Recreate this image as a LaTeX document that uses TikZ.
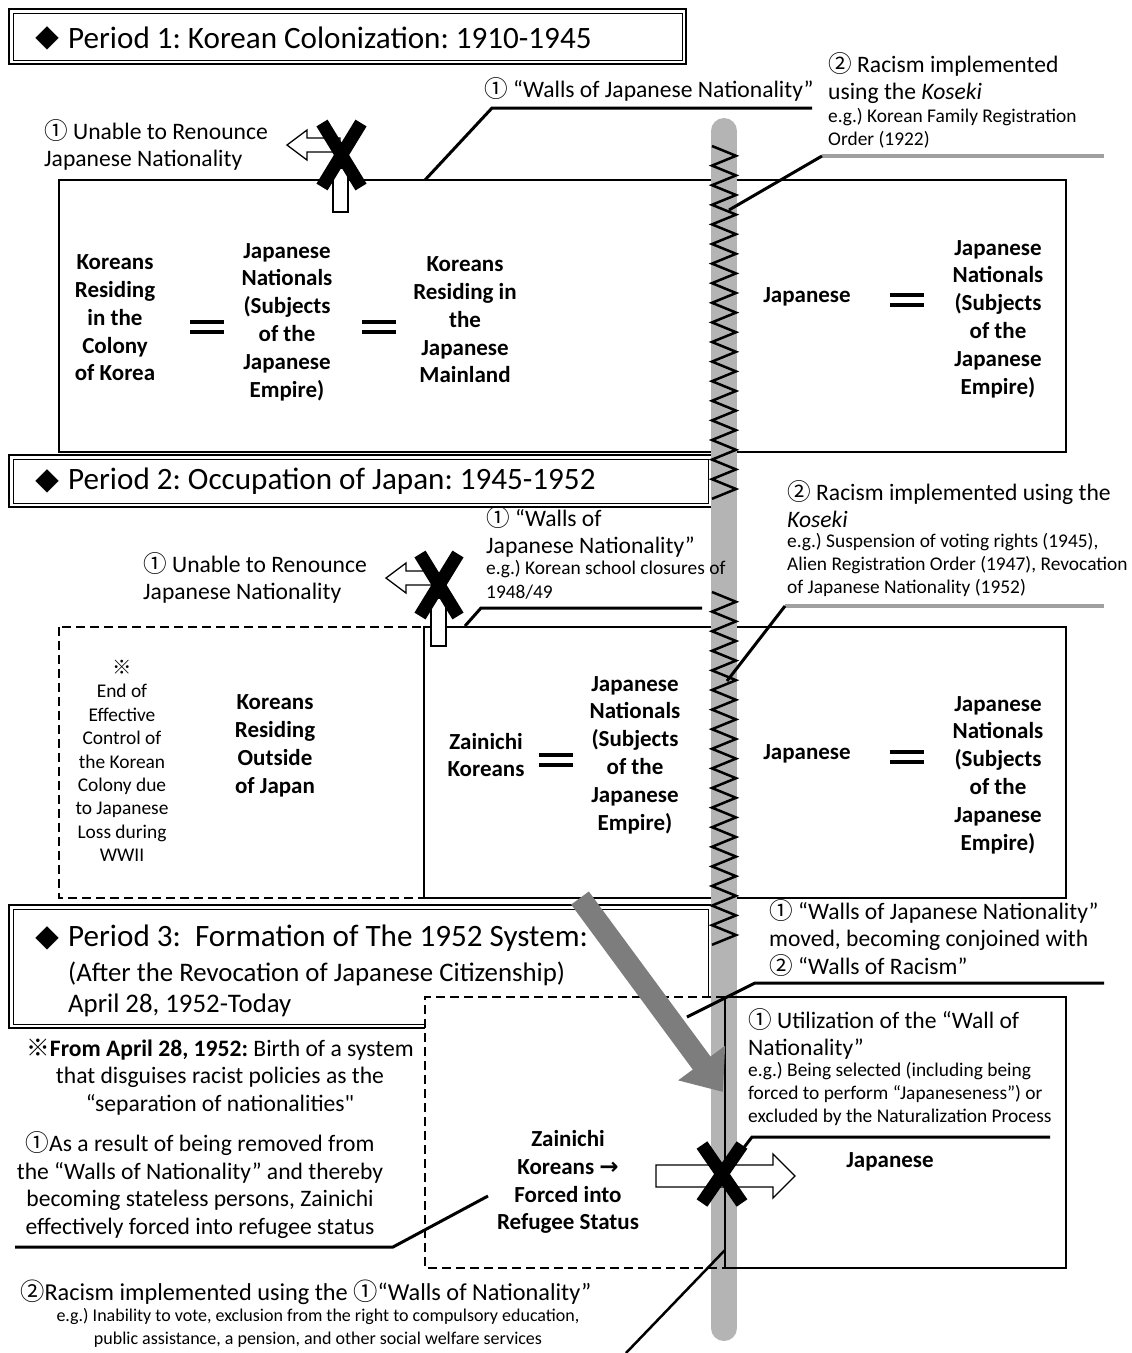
\documentclass[tikz,border=0pt]{standalone}
\usepackage{fontspec}
\usetikzlibrary{arrows.meta}
\setmainfont{Carlito}
\newfontfamily\carq{Carlito}[Ligatures=TeXOff]
\newfontfamily\cjk{Noto Sans CJK JP}
\newfontfamily\djv{DejaVu Sans}
\newcommand\FHd{\fontsize{31.1}{36}\selectfont\frenchspacing}
\newcommand\FSub{\fontsize{26.8}{31}\selectfont\frenchspacing}
\newcommand\FBig{\fontsize{23.6}{27.5}\selectfont\frenchspacing}
\newcommand\FBold{\fontsize{23}{27.8}\selectfont\bfseries\frenchspacing}
\newcommand\FSmall{\fontsize{19.4}{23.4}\selectfont\frenchspacing}
\newcommand\cOne{{\cjk ①}}
\newcommand\cTwo{{\cjk ②}}
\newcommand\kome{{\cjk ※}}
\definecolor{barg}{RGB}{180,180,180}
\definecolor{leadg}{RGB}{160,160,160}
\definecolor{arrg}{RGB}{125,125,125}
\begin{document}
\frenchspacing
\begin{tikzpicture}[x=1pt,y=-1pt,
  hd/.style={inner sep=0pt,font=\FHd},
  sub/.style={inner sep=0pt,font=\FSub},
  big/.style={inner sep=0pt,font=\FBig},
  bld/.style={inner sep=0pt,align=center,font=\FBold},
  sml/.style={inner sep=0pt,font=\FSmall},
  dia/.style={inner sep=0pt,font=\fontsize{24}{24}\selectfont\cjk},
  boxln/.style={line width=1.5pt},
  dashbox/.style={line width=1.5pt,dash pattern=on 9pt off 5pt},
  hdout/.style={line width=1.8pt,fill=white},
  hdin/.style={line width=0.9pt},
  lead/.style={line width=3pt,line join=miter},
  leadgray/.style={line width=4pt,color=leadg},
  eqs/.style={line width=3.5pt},
  zz/.style={line width=2.5pt,line join=miter},
  xm/.style={line width=13pt},
  hollow/.style={line width=1.3pt,fill=white,line join=miter},
  bigarr/.style={line width=22pt,color=arrg,-{Triangle[length=36pt,width=56pt]}}
]
\useasboundingbox (0,0) rectangle (1132,1353);
\fill[white] (0,0) rectangle (1132,1353);

% ---------- boxes ----------
\draw[boxln] (59,180) rectangle (1066,452);
\draw[dashbox] (59,627) rectangle (424,898);
\draw[boxln] (424,627) rectangle (1066,898);
% header boxes
\draw[hdout] (9,9) rectangle (686,64);
\draw[hdin] (13,13) rectangle (682,60);
\draw[hdout] (9,455) rectangle (712,507);
\draw[hdin] (13,459) rectangle (708,503);
\draw[hdout] (9,905) rectangle (712,1028);
\draw[hdin] (13,909) rectangle (708,1024);
% period 3 white areas
\fill[white] (425,997) rectangle (1066,1268);

% ---------- gray wall ----------
\draw[line width=26pt,line cap=round,color=barg] (724,131) -- (724,1328);

% period 3 box borders
\draw[dashbox] (725,997) -- (425,997) -- (425,1268) -- (725,1268);
\draw[boxln] (725,997) rectangle (1066,1268);

% ---------- zigzag walls ----------
\draw[zz] (712,146) \foreach \i in {0,...,17} {-- (736,{146+19.6*\i+9.8}) -- (712,{146+19.6*(\i+1)})};
\draw[zz] (712,592) \foreach \i in {0,...,17} {-- (736,{592+19.6*\i+9.8}) -- (712,{592+19.6*(\i+1)})};

% ---------- headers ----------
\node[dia] (d1) at (47,38) {◆};
\node[hd,anchor=west] (h1) at (68,38) {Period 1: Korean Colonization: 1910-1945};
\node[dia] (d2) at (47,481) {◆};
\node[hd,anchor=west] (h2) at (68,481) {Period 2: Occupation of Japan: 1945-1952};
\node[dia] (d3) at (47,938) {◆};
\node[hd,anchor=west] (h3) at (68,938) {Period 3:\ \ Formation of The 1952 System:};
\node[sub,anchor=west] (h3b) at (68,974) {(After the Revocation of Japanese Citizenship)};
\node[sub,anchor=west] (h3c) at (68,1005) {April 28, 1952-Today};

% ---------- period 1 ----------
\node[bld] (k1) at (115,318) {Koreans\\Residing\\in the\\Colony\\of Korea};
\node[bld] (jn1) at (287,322) {Japanese\\Nationals\\(Subjects\\of the\\Japanese\\Empire)};
\node[bld] (km1) at (465,320) {Koreans\\Residing in\\the\\Japanese\\Mainland};
\node[bld] (jp1) at (807,297) {Japanese};
\node[bld] (jr1) at (998,319) {Japanese\\Nationals\\(Subjects\\of the\\Japanese\\Empire)};
\draw[eqs] (190,322) -- (224,322) (190,332) -- (224,332);
\draw[eqs] (362,322) -- (396,322) (362,332) -- (396,332);
\draw[eqs] (890,295) -- (924,295) (890,305) -- (924,305);

\node[big,anchor=west] (w1) at (484,89) {\cOne\ “Walls of Japanese Nationality”};
\node[big,anchor=west,align=left] (u1) at (44,145) {\cOne\ Unable to Renounce\\Japanese Nationality};
\node[big,anchor=west,align=left] (r1) at (828,78) {\cTwo\ Racism implemented\\using the \textit{Koseki}};
\node[sml,anchor=west,align=left] (r1e) at (828,128) {e.g.) Korean Family Registration\\Order (1922)};

% ---------- period 2 ----------
\node[sml,align=center] (t2a) at (122,761) {\kome\\End of\\Effective\\Control of\\the Korean\\Colony due\\to Japanese\\Loss during\\WWII};
\node[bld] (t2b) at (275,746) {Koreans\\Residing\\Outside\\of Japan};
\node[bld] (t2c) at (486,755) {Zainichi\\Koreans};
\node[bld] (t2d) at (635,755) {Japanese\\Nationals\\(Subjects\\of the\\Japanese\\Empire)};
\node[bld] (t2e) at (807,754) {Japanese};
\node[bld] (t2f) at (998,775) {Japanese\\Nationals\\(Subjects\\of the\\Japanese\\Empire)};
\draw[eqs] (539,755) -- (573,755) (539,765) -- (573,765);
\draw[eqs] (890,752) -- (924,752) (890,762) -- (924,762);

\node[big,anchor=west,align=left] (u2) at (143,578) {\cOne\ Unable to Renounce\\Japanese Nationality};
\node[big,anchor=west,align=left] (w2) at (486,532) {\cOne\ “Walls of\\Japanese Nationality”};
\node[sml,anchor=west,align=left] (w2e) at (486,580) {e.g.) Korean school closures of\\1948/49};
\node[big,anchor=west,align=left] (r2) at (787,504) {\cTwo\ Racism implemented using the\\\textit{Koseki}};
\node[sml,anchor=west,align=left] (r2e) at (787,565) {e.g.) Suspension of voting rights (1945),\\Alien Registration Order (1947), Revocation\\of Japanese Nationality (1952)};

% ---------- period 3 ----------
\node[big,anchor=west,align=left] (w3) at (769,938) {\cOne\ “Walls of Japanese Nationality”\\moved, becoming conjoined with\\\cTwo\ “Walls of Racism”};
\node[big,anchor=west,align=left] (ut3) at (748,1034) {\cOne\ Utilization of the “Wall of\\Nationality”};
\node[sml,anchor=west,align=left] (ut3e) at (748,1094) {e.g.) Being selected (including being\\forced to perform “Japaneseness”) or\\excluded by the Naturalization Process};
\node[bld] (jp3) at (890,1162) {Japanese};
\node[bld] (zk3) at (568,1182) {Zainichi\\Koreans {\djv\bfseries →}\\Forced into\\Refugee Status};
\node[big,align=center] (fr3) at (220,1077) {\kome\textbf{From April 28, 1952:} Birth of a system\\that disguises racist policies as the\\“separation of nationalities{\carq "}};
\node[big,align=center] (as3) at (200,1185) {\cOne As a result of being removed from\\the “Walls of Nationality” and thereby\\becoming stateless persons, Zainichi\\effectively forced into refugee status};
\node[big,anchor=west,font=\fontsize{24.3}{28}\selectfont\frenchspacing] (rc3) at (20,1292) {\cTwo Racism implemented using the \cOne“Walls of Nationality”};
\node[sml,align=center,font=\fontsize{18}{23}\selectfont\frenchspacing] (rc3e) at (318,1328) {e.g.) Inability to vote, exclusion from the right to compulsory education,\\public assistance, a pension, and other social welfare services};

% ---------- leaders ----------
\coordinate (L1a) at (425,180); \coordinate (L1b) at (492,108); \coordinate (L1c) at (812,108);
\draw[lead] (L1a) -- (L1b) -- (L1c);
\coordinate (L2a) at (729,210); \coordinate (L2b) at (822,156); \coordinate (L2c) at (1104,156);
\draw[leadgray] (L2b) -- (L2c);
\draw[lead] (L2a) -- (L2b);
\coordinate (L3a) at (465,626); \coordinate (L3b) at (481,608); \coordinate (L3c) at (702,608);
\draw[lead] (L3a) -- (L3b) -- (L3c);
\coordinate (L4a) at (727,681); \coordinate (L4b) at (785,606); \coordinate (L4c) at (1104,606);
\draw[leadgray] (L4b) -- (L4c);
\draw[lead] (L4a) -- (L4b);
\coordinate (L5a) at (687,1017); \coordinate (L5b) at (755,983); \coordinate (L5c) at (1104,983);
\draw[lead] (L5a) -- (L5b) -- (L5c);
\coordinate (L6a) at (742,1150); \coordinate (L6b) at (752,1137); \coordinate (L6c) at (1050,1137);
\draw[lead] (L6a) -- (L6b) -- (L6c);
\coordinate (L7a) at (15,1247); \coordinate (L7b) at (393,1247); \coordinate (L7c) at (488,1196);
\draw[lead] (L7a) -- (L7b) -- (L7c);
\coordinate (L8a) at (725,1250); \coordinate (L8b) at (626,1353);
\draw[line width=2.5pt] (L8a) -- (L8b);

% ---------- hollow arrows ----------
\draw[hollow] (287,145) -- (307,130) -- (307,138) -- (340,138) -- (340,152) -- (307,152) -- (307,160) -- cycle;
\draw[hollow] (333,168) rectangle (348,212);
\draw[hollow] (386,578) -- (406,563) -- (406,571) -- (436,571) -- (436,585) -- (406,585) -- (406,593) -- cycle;
\draw[hollow] (431,598) rectangle (446,646);
\draw[hollow] (656,1165) -- (773,1165) -- (773,1154) -- (795,1176) -- (773,1198) -- (773,1187) -- (656,1187) -- cycle;

% ---------- X marks ----------
\draw[xm] (322,123) -- (361,187) (361,123) -- (322,187);
\draw[xm] (420,554) -- (458,616) (458,554) -- (420,616);
\draw[xm] (702,1145) -- (742,1203) (742,1145) -- (702,1203);

% ---------- big gray arrow ----------
\coordinate (G1) at (580,898); \coordinate (G2) at (723,1092);
\draw[bigarr] (G1) -- (G2);
\end{tikzpicture}
\end{document}
